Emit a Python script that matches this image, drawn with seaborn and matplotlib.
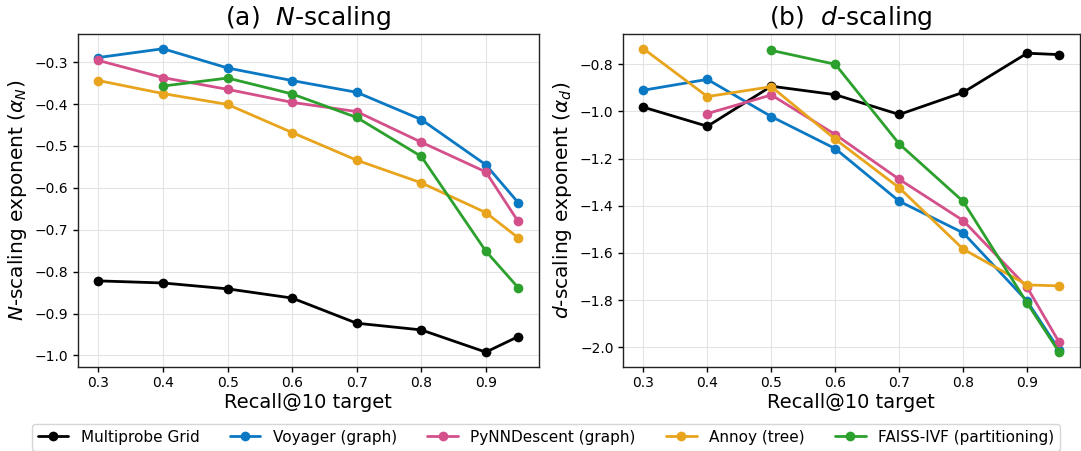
import numpy as np
import pandas as pd
import matplotlib
matplotlib.use("Agg")
import matplotlib.pyplot as plt
import seaborn as sns

recall = [0.3, 0.4, 0.5, 0.6, 0.7, 0.8, 0.9, 0.95]
methods = ["Multiprobe Grid", "Voyager (graph)", "PyNNDescent (graph)", "Annoy (tree)", "FAISS-IVF (partitioning)"]
colors = ["#000000", "#0A78C2", "#D4508B", "#E8A41D", "#2CA02C"]

# (a) N-scaling exponents
n_grid = [-0.822, -0.827, -0.841, -0.863, -0.923, -0.939, -0.992, -0.955]
n_voyager = [-0.289, -0.268, -0.314, -0.344, -0.372, -0.437, -0.545, -0.635]
n_pynn = [-0.296, -0.337, -0.365, -0.396, -0.418, -0.491, -0.562, -0.680]
n_annoy = [-0.344, -0.375, -0.401, -0.468, -0.534, -0.588, -0.659, -0.719]
n_faiss = [np.nan, -0.357, -0.338, -0.376, -0.432, -0.525, -0.751, -0.838]

# (b) d-scaling exponents
d_grid = [-0.982, -1.063, -0.893, -0.929, -1.013, -0.919, -0.753, -0.759]
d_voyager = [-0.910, -0.864, -1.022, -1.158, -1.381, -1.515, -1.805, -2.011]
d_pynn = [np.nan, -1.009, -0.930, -1.098, -1.288, -1.463, -1.746, -1.979]
d_annoy = [-0.734, -0.937, -0.895, -1.118, -1.324, -1.584, -1.736, -1.740]
d_faiss = [np.nan, np.nan, -0.741, -0.800, -1.138, -1.382, -1.813, -2.021]


def long_df(series):
    rows = []
    for m, vals in zip(methods, series):
        for x, v in zip(recall, vals):
            if not np.isnan(v):
                rows.append({"recall": x, "value": v, "method": m})
    return pd.DataFrame(rows)


df_n = long_df([n_grid, n_voyager, n_pynn, n_annoy, n_faiss])
df_d = long_df([d_grid, d_voyager, d_pynn, d_annoy, d_faiss])

sns.set_theme(style="ticks", rc={
    "text.color": "black", "axes.labelcolor": "black",
    "xtick.color": "black", "ytick.color": "black",
    "axes.edgecolor": "#222222",
    "xtick.major.size": 3.5, "ytick.major.size": 3.5,
    "xtick.major.width": 1.0, "ytick.major.width": 1.0,
    "xtick.major.pad": 3.0, "ytick.major.pad": 3.0,
})
plt.rcParams["font.family"] = ["DejaVu Sans"]
plt.rcParams["mathtext.fontset"] = "dejavusans"

palette = dict(zip(methods, colors))
fig = plt.figure(figsize=(10.81, 4.51), dpi=100)
ax1 = fig.add_axes([0.0717, 0.1856, 0.427, 0.740])
ax2 = fig.add_axes([0.576, 0.1856, 0.423, 0.740])

for ax, df, title, ylabel in [
    (ax1, df_n, r"(a)  $N$-scaling", r"$N$-scaling exponent ($\alpha_N$)"),
    (ax2, df_d, r"(b)  $d$-scaling", r"$d$-scaling exponent ($\alpha_d$)"),
]:
    sns.lineplot(data=df, x="recall", y="value", hue="method", hue_order=methods,
                 palette=palette, marker="o", markersize=7, markeredgewidth=0,
                 linewidth=2, ax=ax, legend=True)
    ax.set_title(title, fontsize=18)
    ax.set_xlabel("Recall@10 target", fontsize=14, labelpad=2)
    ax.set_ylabel(ylabel, fontsize=14.5, labelpad=4)
    ax.set_xticks([0.3, 0.4, 0.5, 0.6, 0.7, 0.8, 0.9])
    ax.tick_params(labelsize=10)
    ax.grid(True, color="#e3e3e3", linewidth=0.8)
    for s in ax.spines.values():
        s.set_visible(True)
        s.set_linewidth(1.0)

ax2.set_yticks([-0.8, -1.0, -1.2, -1.4, -1.6, -1.8, -2.0])

handles, labels = ax1.get_legend_handles_labels()
ax1.get_legend().remove()
ax2.get_legend().remove()
fig.legend(handles, labels, loc="upper center", bbox_to_anchor=(0.505, 0.0775),
           ncol=5, fontsize=11, frameon=True, handlelength=2.0, columnspacing=2.0)

fig.savefig("out.png", dpi=100)
